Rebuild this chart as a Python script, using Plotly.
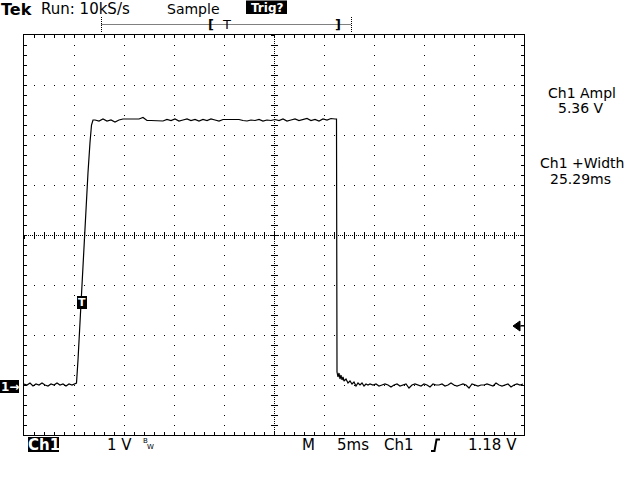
import plotly.graph_objects as go

FONT = "DejaVu Sans"

t_pre = [0.0, 0.3, 0.6, 0.9, 1.2, 1.5, 1.8, 2.1, 2.4, 2.7, 3.0, 3.3, 3.6, 3.9, 4.2, 4.5, 4.8, 5.1]
v_pre = [0.02, 0.00, 0.04, -0.02, 0.02, 0.00, 0.04, 0.00, -0.02, 0.02, 0.00, 0.04, 0.00, 0.02, -0.02, 0.02, 0.00, 0.02]

t_rise = [5.25, 5.4, 5.6, 5.8, 6.0, 6.2, 6.4, 6.6, 6.75, 6.9]
v_rise = [0.04, 0.5, 1.3, 2.1, 2.85, 3.55, 4.25, 4.85, 5.2, 5.3]

t_top = [7.1, 7.5, 7.9, 8.3, 8.7, 9.1, 9.5, 9.9, 10.3, 10.7, 11.1, 11.5, 11.9, 12.3, 12.7, 13.1,
         13.5, 13.9, 14.3, 14.7, 15.1, 15.5, 15.9, 16.3, 16.7, 17.1, 17.5, 17.9, 18.3, 18.7, 19.1,
         19.5, 19.9, 20.3, 20.7, 21.1, 21.5, 21.9, 22.3, 22.7, 23.1, 23.5, 23.9, 24.3, 24.7, 25.1,
         25.5, 25.9, 26.3, 26.7, 27.1, 27.5, 27.9, 28.3, 28.7, 29.1, 29.5, 29.9, 30.3, 30.7, 31.1]
v_top = [5.30, 5.28, 5.32, 5.28, 5.30, 5.26, 5.30, 5.32,
         5.32, 5.32, 5.32, 5.32,
         5.35,
         5.29, 5.29, 5.29, 5.29,
         5.28, 5.31, 5.29, 5.32, 5.28, 5.30, 5.32, 5.29, 5.31, 5.28, 5.31, 5.29, 5.32, 5.30, 5.28,
         5.31, 5.31, 5.31, 5.31, 5.31,
         5.29, 5.28, 5.30, 5.29, 5.31, 5.28, 5.30, 5.29,
         5.31, 5.29, 5.32, 5.28, 5.30, 5.32, 5.29, 5.31, 5.33, 5.29, 5.31, 5.28, 5.32, 5.30, 5.33,
         5.32]

t_fall = [31.25, 31.3, 31.4, 31.5, 31.6, 31.7, 31.8, 31.9, 32.0, 32.2, 32.4, 32.6, 32.8, 33.0,
          33.2, 33.4, 33.6, 33.8, 34.0, 34.2, 34.4, 34.6]
v_fall = [5.32, 0.26, 0.16, 0.24, 0.12, 0.20, 0.10, 0.16, 0.08, 0.12, 0.04, 0.08, 0.02, 0.06,
          -0.02, 0.04, 0.00, 0.04, -0.02, 0.02, 0.00, 0.02]

t_post = [34.9, 35.2, 35.5, 35.8, 36.1, 36.4, 36.7, 37.0, 37.3, 37.6, 37.9, 38.2, 38.5, 38.8,
          39.1, 39.4, 39.7, 40.0, 40.3, 40.6, 40.9, 41.2, 41.5, 41.8, 42.1, 42.4, 42.7, 43.0,
          43.3, 43.6, 43.9, 44.2, 44.5, 44.8, 45.1, 45.4, 45.7, 46.0, 46.3, 46.6, 46.9, 47.2,
          47.5, 47.8, 48.1, 48.4, 48.7, 49.0, 49.3, 49.6, 49.9]
v_post = [0.00, 0.02, -0.02, 0.00, 0.02, 0.00, -0.04, 0.00, 0.02, -0.02,
          0.00, 0.02, -0.06, 0.00, 0.02, 0.00, -0.02, 0.02, 0.00, -0.04,
          0.02, 0.00, 0.00, 0.02, -0.02, 0.00, 0.04, 0.00, -0.02, 0.00,
          0.02, 0.00, -0.06, 0.02, 0.00, -0.02, 0.00, 0.00, 0.02, 0.00,
          -0.02, 0.04, 0.00, -0.02, 0.00, 0.02, -0.04, 0.00, 0.02, 0.00,
          0.02]

t_ms = t_pre + t_rise + t_top + t_fall + t_post
ch1_v = v_pre + v_rise + v_top + v_fall + v_post

time_per_div_ms = 5
volts_per_div = 1
n_xdiv = 10
n_ydiv = 8
ground_div = 1          # ground marker one division above the bottom
trig_level_v = 1.18
trig_time_ms = 5.8

header_labels = ["Tek", "Run: 10kS/s", "Sample", "Trig?"]
meas_labels = ["Ch1 Ampl", "5.36 V", "Ch1 +Width", "25.29ms"]
footer_labels = ["Ch1", "1 V", "M", "5ms", "Ch1", "1.18 V"]

# ---------------- geometry helpers (pixel -> paper) ----------------
W, H = 640, 480
L, R, T, B = 24, 524, 35, 435


def px(x):
    return (x - L) / (R - L)


def py(y):
    return (B - y) / (B - T)


x_range = [0, n_xdiv * time_per_div_ms]
y_range = [-ground_div * volts_per_div, (n_ydiv - ground_div) * volts_per_div]
x_mid = sum(x_range) / 2
y_mid = sum(y_range) / 2

fig = go.Figure()
fig.add_trace(go.Scatter(x=t_ms, y=ch1_v, mode="lines",
                         line=dict(color="black", width=1.2), hoverinfo="skip"))
# empty traces so the overlay axes (centre lines and centre ticks) are drawn
for xa, ya in [("x2", "y2"), ("x3", "y3"), ("x4", "y4")]:
    fig.add_trace(go.Scatter(x=[], y=[], xaxis=xa, yaxis=ya, hoverinfo="skip"))

ax_common = dict(showticklabels=False, zeroline=False, tickcolor="black", fixedrange=True)

fig.update_layout(
    width=W, height=H,
    margin=dict(l=L, r=W - R, t=T, b=H - B, pad=0),
    paper_bgcolor="white", plot_bgcolor="white",
    showlegend=False, hovermode=False,
    xaxis=dict(range=x_range, dtick=time_per_div_ms, tick0=0,
               showgrid=True, gridcolor="black", gridwidth=1, griddash="1px,9px",
               showline=True, linecolor="black", linewidth=1, mirror="allticks",
               ticks="inside", ticklen=3,
               minor=dict(dtick=1, ticks="inside", ticklen=3, tickcolor="black", showgrid=False),
               **ax_common),
    yaxis=dict(range=y_range, dtick=volts_per_div, tick0=0,
               showgrid=True, gridcolor="black", gridwidth=1, griddash="1px,9px",
               showline=True, linecolor="black", linewidth=1, mirror="allticks",
               ticks="inside", ticklen=3,
               minor=dict(dtick=0.2, ticks="inside", ticklen=3, tickcolor="black", showgrid=False),
               **ax_common),
    xaxis2=dict(overlaying="x", anchor="y", range=x_range, tick0=0, dtick=x_mid,
                showgrid=True, gridcolor="black", griddash="1px,1px", ticks="",
                showline=False, **ax_common),
    yaxis2=dict(overlaying="y", anchor="x", range=y_range, tick0=y_range[0], dtick=y_mid - y_range[0],
                showgrid=True, gridcolor="black", griddash="1px,1px", ticks="",
                showline=False, **ax_common),
    xaxis3=dict(overlaying="x", anchor="free", position=0.5, range=x_range, tick0=0, dtick=1,
                ticks="inside", ticklen=3, showgrid=False, showline=False, **ax_common),
    yaxis3=dict(overlaying="y", anchor="free", position=0.5, range=y_range, tick0=0, dtick=0.2,
                ticks="inside", ticklen=3, showgrid=False, showline=False, **ax_common),
    xaxis4=dict(overlaying="x", anchor="free", position=0.5, range=x_range, tick0=0, dtick=1,
                ticks="outside", ticklen=3, showgrid=False, showline=False, **ax_common),
    yaxis4=dict(overlaying="y", anchor="free", position=0.5, range=y_range, tick0=0, dtick=0.2,
                ticks="outside", ticklen=3, showgrid=False, showline=False, **ax_common),
)

shapes = []
ann = []


def txt(x, y, s, size=15, color="black", bold=False, xanchor="center"):
    ann.append(dict(x=px(x), y=py(y), xref="paper", yref="paper",
                    text=("<b>%s</b>" % s) if bold else s, showarrow=False,
                    xanchor=xanchor, yanchor="middle",
                    font=dict(family=FONT, size=size, color=color)))


def box(x0, y0, x1, y1):
    shapes.append(dict(type="rect", xref="paper", yref="paper",
                       x0=px(x0), x1=px(x1), y0=py(y0), y1=py(y1),
                       fillcolor="black", line=dict(width=0), layer="above"))


def pline(x0, y0, x1, y1, dash="solid", width=1):
    shapes.append(dict(type="line", xref="paper", yref="paper",
                       x0=px(x0), x1=px(x1), y0=py(y0), y1=py(y1),
                       line=dict(color="black", width=width, dash=dash), layer="above"))


# header
txt(16.5, 9.5, header_labels[0], size=16, bold=True)
txt(85, 9, header_labels[1], size=15)
txt(193, 8.5, header_labels[2], size=14)
box(246, 0.5, 287, 14)
txt(266.5, 8, header_labels[3], size=12, color="white", bold=True)

# record bar
pline(101.5, 17, 101.5, 33, dash="1px,1px")
pline(351.5, 17, 351.5, 33, dash="1px,1px")
pline(101.5, 24.5, 351.5, 24.5, dash="1px,1px")
txt(211, 24.5, "[", size=13, bold=True)
txt(226.5, 24.5, "T", size=13)
txt(337.5, 24.5, "]", size=13, bold=True)

# measurements (right side)
txt(582, 92.5, meas_labels[0], size=14)
txt(581, 108.5, meas_labels[1], size=14)
txt(581.5, 162.5, meas_labels[2], size=14)
txt(580, 178.5, meas_labels[3], size=14)

# footer
box(28, 437, 59, 452)
txt(43.5, 444.5, footer_labels[0], size=15, color="white", bold=True)
txt(119, 444.5, footer_labels[1], size=15)
txt(145.5, 441, "B", size=7)
txt(150.5, 447, "W", size=7)
txt(308.5, 444.5, footer_labels[2], size=15)
txt(352.5, 444.5, footer_labels[3], size=15)
txt(399, 444.5, footer_labels[4], size=15)
shapes.append(dict(type="path", xref="paper", yref="paper",
                   path="M %f,%f L %f,%f L %f,%f L %f,%f" % (
                       px(431), py(451), px(434.5), py(451), px(436.5), py(439.5), px(440), py(439.5)),
                   line=dict(color="black", width=2)))
txt(492.5, 444.5, footer_labels[5], size=15)

# ground marker "1->"
box(0, 380, 19, 393)
txt(9.5, 386.5, "1\u2192", size=12, color="white", bold=True)

# trigger position marker on the trace
box(77, 296, 87, 309)
ann.append(dict(x=trig_time_ms, y=py(302.5), xref="x", yref="paper", text="<b>T</b>",
                showarrow=False, xanchor="center", yanchor="middle",
                font=dict(family=FONT, size=11, color="white")))

# trigger level arrow on the right edge
dv = 0.1
shapes.append(dict(type="path", xref="paper", yref="y",
                   path="M %f,%f L %f,%f L %f,%f Z" % (
                       px(513), trig_level_v, px(520), trig_level_v + dv, px(520), trig_level_v - dv),
                   fillcolor="black", line=dict(color="black", width=1)))
shapes.append(dict(type="line", xref="paper", yref="y", x0=px(519), x1=px(524),
                   y0=trig_level_v, y1=trig_level_v, line=dict(color="black", width=1)))

fig.update_layout(shapes=shapes, annotations=ann)
fig.write_html("out.html", config={"displayModeBar": False},
               post_script="document.body.style.margin='0';")
